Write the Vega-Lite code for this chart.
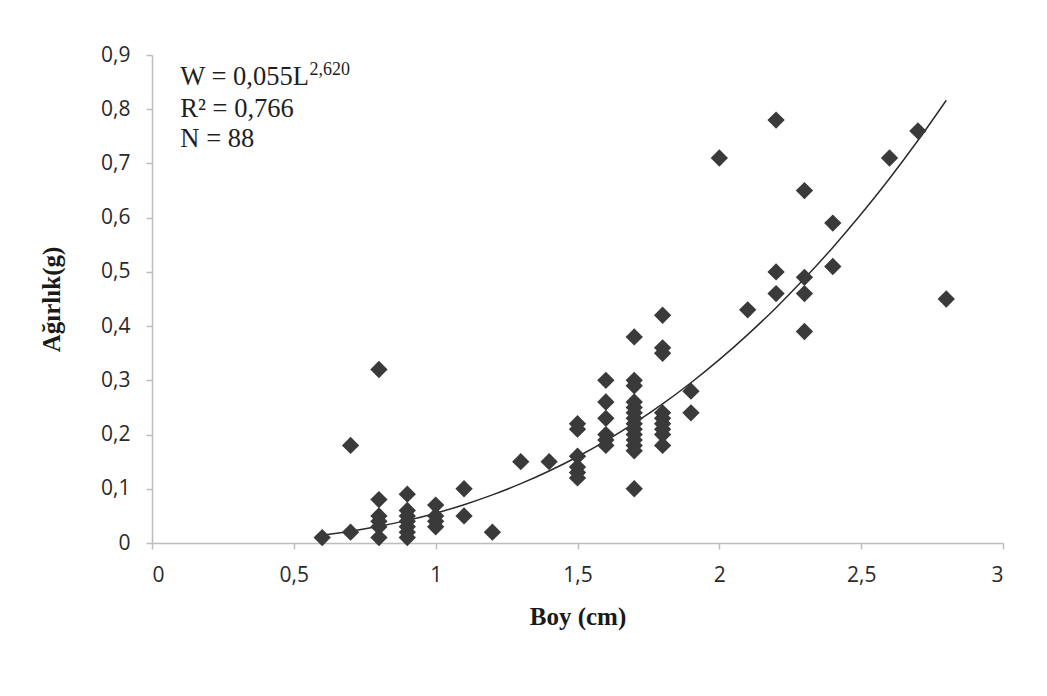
{
  "$schema": "https://vega.github.io/schema/vega-lite/v6.json",
  "autosize": "none",
  "width": 851,
  "height": 488,
  "padding": {"left": 152, "top": 55, "right": 44, "bottom": 153},
  "background": "white",
  "config": {
    "view": {"stroke": null},
    "axis": {
      "grid": false,
      "domainColor": "#bdbdbd",
      "domainWidth": 1.5,
      "tickColor": "#bdbdbd",
      "tickWidth": 1.5,
      "tickSize": 6,
      "labelFont": "Open Sans",
      "labelFontSize": 21,
      "labelColor": "#2a2a2a",
      "titleFont": "Liberation Serif",
      "titleFontSize": 25,
      "titleFontWeight": "bold",
      "titleColor": "#1a1a1a"
    }
  },
  "datasets": {
    "olcum": [
      {"L": 0.6, "W": 0.01},
      {"L": 0.7, "W": 0.02}, {"L": 0.7, "W": 0.18},
      {"L": 0.8, "W": 0.32}, {"L": 0.8, "W": 0.08}, {"L": 0.8, "W": 0.05}, {"L": 0.8, "W": 0.04}, {"L": 0.8, "W": 0.03}, {"L": 0.8, "W": 0.01},
      {"L": 0.9, "W": 0.09}, {"L": 0.9, "W": 0.06}, {"L": 0.9, "W": 0.05}, {"L": 0.9, "W": 0.04}, {"L": 0.9, "W": 0.03}, {"L": 0.9, "W": 0.02}, {"L": 0.9, "W": 0.01},
      {"L": 1.0, "W": 0.07}, {"L": 1.0, "W": 0.05}, {"L": 1.0, "W": 0.04}, {"L": 1.0, "W": 0.03},
      {"L": 1.1, "W": 0.10}, {"L": 1.1, "W": 0.05},
      {"L": 1.2, "W": 0.02},
      {"L": 1.3, "W": 0.15},
      {"L": 1.4, "W": 0.15},
      {"L": 1.5, "W": 0.22}, {"L": 1.5, "W": 0.21}, {"L": 1.5, "W": 0.16}, {"L": 1.5, "W": 0.14}, {"L": 1.5, "W": 0.13}, {"L": 1.5, "W": 0.12},
      {"L": 1.6, "W": 0.30}, {"L": 1.6, "W": 0.26}, {"L": 1.6, "W": 0.23}, {"L": 1.6, "W": 0.20}, {"L": 1.6, "W": 0.19}, {"L": 1.6, "W": 0.18},
      {"L": 1.7, "W": 0.38}, {"L": 1.7, "W": 0.30}, {"L": 1.7, "W": 0.29}, {"L": 1.7, "W": 0.26}, {"L": 1.7, "W": 0.25}, {"L": 1.7, "W": 0.24}, {"L": 1.7, "W": 0.23}, {"L": 1.7, "W": 0.22}, {"L": 1.7, "W": 0.21}, {"L": 1.7, "W": 0.20}, {"L": 1.7, "W": 0.19}, {"L": 1.7, "W": 0.18}, {"L": 1.7, "W": 0.17}, {"L": 1.7, "W": 0.10},
      {"L": 1.8, "W": 0.42}, {"L": 1.8, "W": 0.36}, {"L": 1.8, "W": 0.35}, {"L": 1.8, "W": 0.24}, {"L": 1.8, "W": 0.23}, {"L": 1.8, "W": 0.22}, {"L": 1.8, "W": 0.21}, {"L": 1.8, "W": 0.20}, {"L": 1.8, "W": 0.18},
      {"L": 1.9, "W": 0.28}, {"L": 1.9, "W": 0.24},
      {"L": 2.0, "W": 0.71},
      {"L": 2.1, "W": 0.43},
      {"L": 2.2, "W": 0.78}, {"L": 2.2, "W": 0.50}, {"L": 2.2, "W": 0.46},
      {"L": 2.3, "W": 0.65}, {"L": 2.3, "W": 0.49}, {"L": 2.3, "W": 0.46}, {"L": 2.3, "W": 0.39},
      {"L": 2.4, "W": 0.59}, {"L": 2.4, "W": 0.51},
      {"L": 2.6, "W": 0.71},
      {"L": 2.7, "W": 0.76},
      {"L": 2.8, "W": 0.45}
    ],
    "egri": [
      {"L": 0.6, "W": 0.0144}, {"L": 0.7, "W": 0.0216}, {"L": 0.8, "W": 0.0307}, {"L": 0.9, "W": 0.0417},
      {"L": 1.0, "W": 0.0550}, {"L": 1.1, "W": 0.0706}, {"L": 1.2, "W": 0.0887}, {"L": 1.3, "W": 0.1094},
      {"L": 1.4, "W": 0.1328}, {"L": 1.5, "W": 0.1591}, {"L": 1.6, "W": 0.1884}, {"L": 1.7, "W": 0.2209},
      {"L": 1.8, "W": 0.2566}, {"L": 1.9, "W": 0.2956}, {"L": 2.0, "W": 0.3381}, {"L": 2.1, "W": 0.3843},
      {"L": 2.2, "W": 0.4340}, {"L": 2.3, "W": 0.4877}, {"L": 2.4, "W": 0.5451}, {"L": 2.5, "W": 0.6067},
      {"L": 2.6, "W": 0.6723}, {"L": 2.7, "W": 0.7422}, {"L": 2.8, "W": 0.8165}
    ],
    "tek": [{}]
  },
  "layer": [
    {
      "data": {"name": "egri"},
      "mark": {"type": "line", "color": "#2b2b2b", "strokeWidth": 1.5, "interpolate": "monotone"},
      "encoding": {
        "x": {"field": "L", "type": "quantitative"},
        "y": {"field": "W", "type": "quantitative"}
      }
    },
    {
      "data": {"name": "olcum"},
      "mark": {"type": "point", "shape": "diamond", "filled": true, "size": 300, "color": "#3a3a3a", "opacity": 1},
      "encoding": {
        "x": {
          "field": "L", "type": "quantitative",
          "scale": {"domain": [0, 3], "nice": false},
          "axis": {
            "title": "Boy (cm)",
            "values": [0, 0.5, 1, 1.5, 2, 2.5, 3],
            "labelExpr": "replace(format(datum.value, '~g'), '.', ',')",
            "labelPadding": 15,
            "titlePadding": 19
          }
        },
        "y": {
          "field": "W", "type": "quantitative",
          "scale": {"domain": [0, 0.9], "nice": false},
          "axis": {
            "title": "Ağırlık(g)",
            "values": [0, 0.1, 0.2, 0.3, 0.4, 0.5, 0.6, 0.7, 0.8, 0.9],
            "labelExpr": "replace(format(datum.value, '~g'), '.', ',')",
            "labelPadding": 16,
            "titlePadding": 36
          }
        }
      }
    },
    {
      "data": {"name": "tek"},
      "mark": {"type": "text", "text": "W = 0,055L", "font": "Liberation Serif", "fontSize": 26.5, "align": "left", "baseline": "alphabetic", "color": "#1f1f1f"},
      "encoding": {"x": {"datum": 0.1}, "y": {"datum": 0.845}}
    },
    {
      "data": {"name": "tek"},
      "mark": {"type": "text", "text": "2,620", "font": "Liberation Serif", "fontSize": 18, "align": "left", "baseline": "alphabetic", "color": "#1f1f1f"},
      "encoding": {"x": {"datum": 0.555}, "y": {"datum": 0.864}}
    },
    {
      "data": {"name": "tek"},
      "mark": {"type": "text", "text": "R² = 0,766", "font": "Liberation Serif", "fontSize": 26.5, "align": "left", "baseline": "alphabetic", "color": "#1f1f1f"},
      "encoding": {"x": {"datum": 0.1}, "y": {"datum": 0.786}}
    },
    {
      "data": {"name": "tek"},
      "mark": {"type": "text", "text": "N = 88", "font": "Liberation Serif", "fontSize": 26.5, "align": "left", "baseline": "alphabetic", "color": "#1f1f1f"},
      "encoding": {"x": {"datum": 0.1}, "y": {"datum": 0.731}}
    }
  ]
}
